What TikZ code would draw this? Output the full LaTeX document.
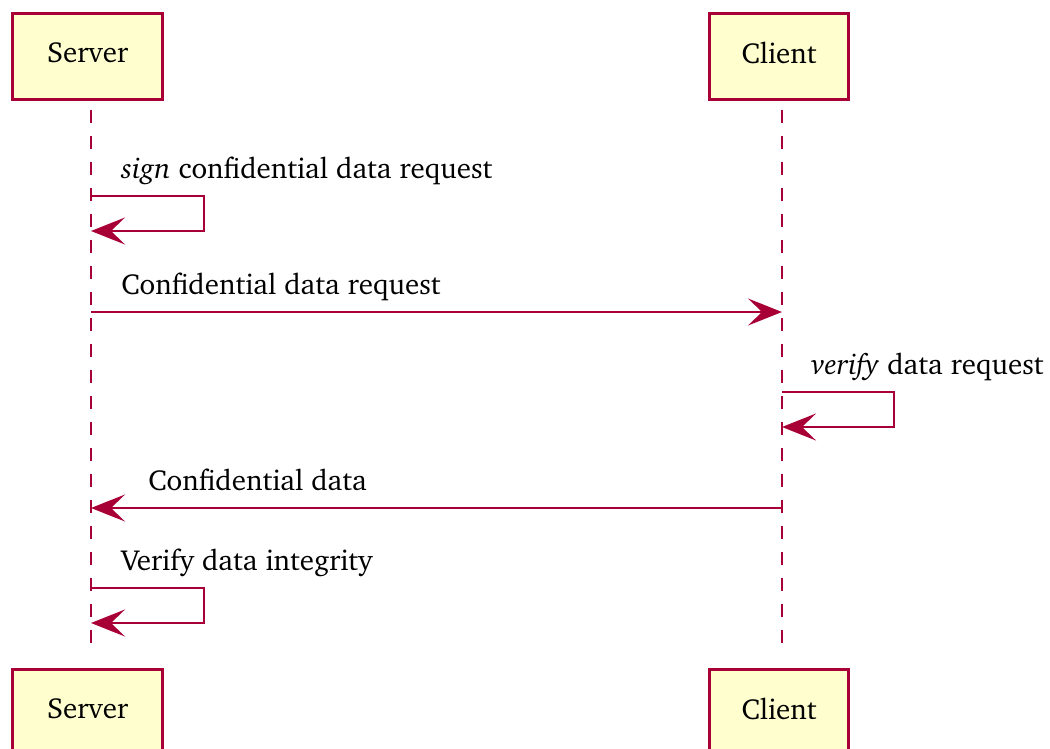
\documentclass[tikz,border=0pt]{standalone}
\usepackage[T1]{fontenc}
\usepackage{charter}
\usetikzlibrary{arrows.meta}
\definecolor{umlred}{HTML}{A80036}
\definecolor{umlfill}{HTML}{FEFECE}
\tikzset{
    actor/.style={draw=umlred, fill=umlfill, line width=1.6pt, minimum height=43pt, inner sep=0pt, text depth=4pt},
    life/.style={umlred, line width=1.2pt, dash pattern=on 6.5pt off 6.5pt},
    msg/.style={umlred, line width=1.2pt, -{Stealth[length=17pt, width=13.5pt, inset=7pt]}},
    lbl/.style={anchor=base west, inner sep=0pt, text=black}
}
\begin{document}
\begin{tikzpicture}[x=0.5pt, y=-0.5pt, font=\fontsize{14.5}{17}\selectfont]
    \useasboundingbox (0,0) rectangle (1050,749);
    \node[actor, minimum width=75pt, anchor=north west] (srvA) at (11,12) {Server};
    \node[actor, minimum width=69.5pt, anchor=north west] (cliA) at (708,12) {Client};
    \node[actor, minimum width=75pt, anchor=north west] (srvB) at (11,668) {Server};
    \node[actor, minimum width=69.5pt, anchor=north west] (cliB) at (708,668) {Client};
    \coordinate (srvT) at (91,110);
    \coordinate (srvE) at (91,655);
    \coordinate (cliT) at (782,110);
    \coordinate (cliE) at (782,655);
    \draw[life] (srvT) -- (srvE);
    \draw[life] (cliT) -- (cliE);
    \coordinate (s1) at (91,196);
    \coordinate (s2) at (91,231);
    \coordinate (s3) at (91,312);
    \coordinate (c3) at (782,312);
    \coordinate (c4) at (782,392);
    \coordinate (c5) at (782,427);
    \coordinate (c6) at (782,508);
    \coordinate (s6) at (91,508);
    \coordinate (s7) at (91,588);
    \coordinate (s8) at (91,623);
    \draw[msg] (s1) -- ++(113,0) |- (s2);
    \node[lbl] (m1) at (121,178) {\textit{sign} confidential data request};
    \draw[msg] (s3) -- (c3);
    \node[lbl] (m2) at (121,294) {Confidential data request};
    \draw[msg] (c4) -- ++(112,0) |- (c5);
    \node[lbl] (m3) at (811,374) {\textit{verify} data request};
    \draw[msg] (c6) -- (s6);
    \node[lbl] (m4) at (148,490) {Confidential data};
    \draw[msg] (s7) -- ++(113,0) |- (s8);
    \node[lbl] (m5) at (121,570) {Verify data integrity};
\end{tikzpicture}
\end{document}
